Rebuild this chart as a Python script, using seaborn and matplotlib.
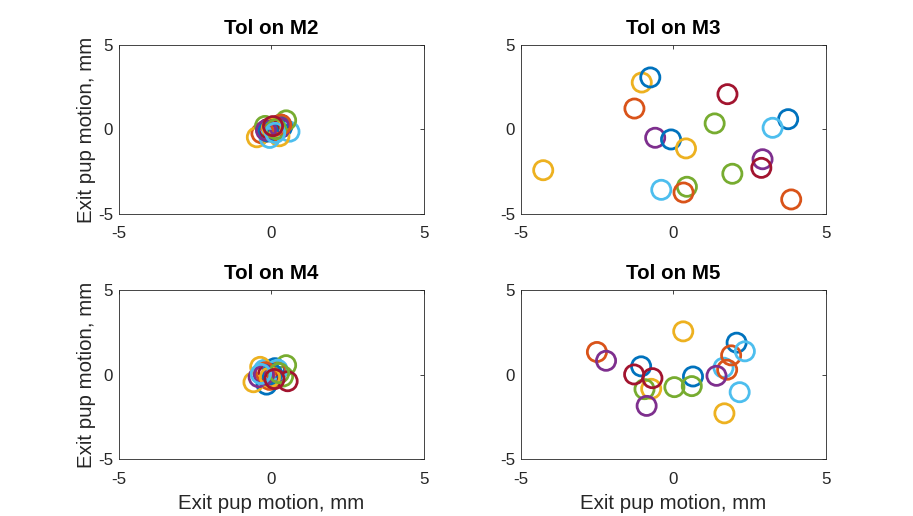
import numpy as np
import pandas as pd
import matplotlib
matplotlib.use("Agg")
import matplotlib.pyplot as plt
import seaborn as sns

# ---------------- data ----------------
titles = ["Tol on M2", "Tol on M3", "Tol on M4", "Tol on M5"]
series_colors = ["#0072BD", "#D95319", "#EDB120", "#7E2F8E", "#77AC30", "#4DBEEE", "#A2142F"]
ticks = [-5, 0, 5]
xlabel = "Exit pup motion, mm"
ylabel = "Exit pup motion, mm"

# color index per point (0=blue,1=orange,2=yellow,3=purple,4=green,5=light blue,6=dark red)
m2_series = [0, 1, 2, 3, 4, 5, 6, 0, 1, 2, 3, 4, 5, 6, 0, 1, 2, 3, 4, 5, 6]
m2_x = [0.22, -0.33, -0.48, 0.00, -0.21, 0.59, 0.30, 0.35, 0.10, 0.26, 0.28, 0.48, -0.06, -0.10, -0.12, 0.32, 0.02, -0.18, 0.15, 0.12, 0.05]
m2_y = [0.07, -0.22, -0.46, -0.03, 0.21, -0.13, 0.29, 0.15, -0.10, -0.40, 0.10, 0.54, -0.50, 0.05, -0.12, 0.28, 0.12, -0.05, 0.02, -0.20, 0.20]

m3_series = [0, 1, 2, 3, 4, 5, 6, 0, 1, 2, 3, 4, 5, 6, 0, 1, 2, 4]
m3_x = [3.76, -1.28, -1.04, -0.60, 0.44, 3.25, 1.77, -0.08, 0.33, 0.41, 2.92, 1.35, -0.40, 2.88, -0.76, 3.86, -4.27, 1.93]
m3_y = [0.61, 1.24, 2.78, -0.49, -3.39, 0.10, 2.09, -0.59, -3.73, -1.12, -1.76, 0.36, -3.57, -2.27, 3.08, -4.14, -2.41, -2.62]

m4_series = [0, 1, 2, 3, 4, 5, 6, 0, 1, 2, 3, 4, 5, 6, 0, 1, 2, 3, 4, 5, 6]
m4_x = [-0.16, -0.06, -0.59, -0.42, 0.38, -0.24, -0.10, 0.11, 0.15, -0.37, 0.05, 0.48, 0.20, 0.53, 0.02, -0.20, -0.05, -0.25, 0.25, -0.35, 0.10]
m4_y = [-0.58, -0.30, -0.44, -0.14, -0.10, 0.29, 0.10, 0.39, 0.20, 0.47, -0.05, 0.57, 0.30, -0.38, 0.05, 0.15, -0.15, 0.00, 0.10, 0.05, -0.25]

m5_series = [0, 1, 2, 3, 4, 5, 6, 0, 1, 2, 3, 4, 5, 6, 0, 1, 2, 3, 4, 5]
m5_x = [-1.06, -2.51, -0.73, -2.21, -0.95, 1.64, -1.29, 0.64, 1.76, 0.32, 1.41, 0.03, 2.17, -0.69, 2.07, 1.89, 1.67, -0.88, 0.60, 2.34]
m5_y = [0.50, 1.35, -0.83, 0.83, -0.85, 0.42, 0.02, -0.10, 0.30, 2.57, -0.06, -0.73, -1.03, -0.20, 1.90, 1.15, -2.28, -1.84, -0.67, 1.39]

panels = [(m2_x, m2_y, m2_series), (m3_x, m3_y, m3_series),
          (m4_x, m4_y, m4_series), (m5_x, m5_y, m5_series)]

# ---------------- style ----------------
sns.set_style("white")
plt.rcParams["font.family"] = ["Liberation Sans", "DejaVu Sans"]
text_color = "#262626"

fig = plt.figure(figsize=(9.13, 5.16), dpi=100)
lefts = [0.1303, 0.5706]
bottoms = [0.5853, 0.1099]
w, h = 0.3341, 0.3275

for k, (px, py, ps) in enumerate(panels):
    r, c = divmod(k, 2)
    ax = fig.add_axes([lefts[c], bottoms[r], w, h])
    df = pd.DataFrame({"x": px, "y": py, "s": [str(v) for v in ps]})
    order = [str(i) for i in range(len(series_colors))]
    pal = {str(i): col for i, col in enumerate(series_colors)}
    sns.scatterplot(data=df, x="x", y="y", hue="s", hue_order=order, palette=pal,
                    s=190, linewidth=2.0, legend=False, ax=ax, clip_on=True)
    coll = ax.collections[-1]
    fcs = coll.get_facecolors()
    coll.set_edgecolors(fcs)
    coll.set_facecolors("none")
    coll.set_linewidths(2.0)

    ax.set_xlim(-5, 5)
    ax.set_ylim(-5, 5)
    ax.set_xticks(ticks)
    ax.set_yticks(ticks)
    ax.set_xticklabels([str(t) for t in ticks])
    ax.set_yticklabels([str(t) for t in ticks])
    ax.tick_params(axis="both", direction="in", length=3, width=0.6,
                   colors=text_color, labelsize=12.2, top=True, right=True)
    ax.tick_params(axis="x", pad=9.0)
    ax.tick_params(axis="y", pad=4.2)
    for sp in ax.spines.values():
        sp.set_visible(True)
        sp.set_color(text_color)
        sp.set_linewidth(0.6)
    ax.set_title(titles[k], fontsize=14.8, fontweight="bold", color="black", pad=8)
    if r == 1:
        ax.set_xlabel(xlabel, fontsize=14.8, color=text_color, labelpad=5.5)
    else:
        ax.set_xlabel("")
    if c == 0:
        ax.set_ylabel(ylabel, fontsize=14.8, color=text_color, labelpad=1.5)
    else:
        ax.set_ylabel("")

fig.savefig("out.png", dpi=100)
